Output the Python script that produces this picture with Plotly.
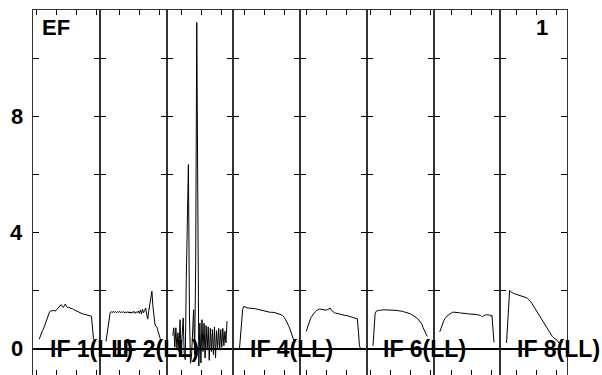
import plotly.graph_objects as go

# ---------------- data ----------------
IF_NAMES = ["IF 1(LL)", "IF 2(LL)", "IF 3(LL)", "IF 4(LL)",
            "IF 5(LL)", "IF 6(LL)", "IF 7(LL)", "IF 8(LL)"]
IF_SHOWN_LABEL = [True, True, False, True, False, True, False, True]
IF_START_MHZ = [8402.5, 8412.0, 8421.75, 8431.25, 8441.0, 8450.5, 8460.25, 8472.5]
IF_BANDWIDTH_MHZ = 10.0
CHAN_WIDTH_MHZ = 0.15625
FIRST_CHAN = 6
FREQ_TICK_MHZ = 3.0
Y_TICKS = [0, 2, 4, 6, 8, 10]
Y_LABELS = [0, 4, 8]
TITLE_TEXT = "Spectra, bandpass applied"
STATION = "EF"
PAGE = "1"

amp_if1 = [0.33, 0.45, 0.55, 0.62, 0.68, 0.78, 0.90, 1.02, 1.12, 1.22, 1.28, 1.30, 1.31,
           1.33, 1.32, 1.30, 1.31, 1.36, 1.40, 1.43, 1.48, 1.52, 1.46, 1.42, 1.48, 1.54,
           1.47, 1.42, 1.43, 1.42, 1.41, 1.40, 1.37, 1.35, 1.33, 1.31, 1.29, 1.27, 1.25,
           1.23, 1.22, 1.21, 1.20, 1.19, 1.18, 1.17, 1.16, 1.16, 1.15, 1.14, 1.12, 0.75, 0.33]
amp_if2 = [0.25, 0.55, 0.85, 1.10, 1.24, 1.28, 1.24, 1.29, 1.25, 1.28, 1.24, 1.28, 1.25,
           1.29, 1.24, 1.27, 1.25, 1.28, 1.23, 1.27, 1.24, 1.28, 1.23, 1.27, 1.22, 1.27,
           1.24, 1.29, 1.22, 1.27, 1.24, 1.30, 1.22, 1.33, 1.20, 1.36, 1.24, 1.32, 1.40,
           1.18, 1.02, 1.30, 1.55, 1.80, 1.98, 1.45, 1.00, 0.82, 0.78, 0.72, 0.58, 0.45, 0.35]
amp_if3 = [0.45, 0.72, 0.05, 0.72, -0.05, 0.55, -0.10, 1.00, -0.15, 0.70, 1.06, -0.20, -0.38,
           2.50, 5.00, 6.35, 1.20, -0.50, -0.26, 0.60, 1.34, -0.20, 3.00, 11.25, 4.00, -0.60,
           0.88, -0.49, 1.00, -0.10, 0.88, -0.32, 0.80, -0.05, 0.75, -0.40, 0.70, -0.10, 0.66,
           -0.20, 0.75, -0.32, 0.62, 0.00, 0.70, -0.05, 0.66, 0.05, 0.70, 0.10, 0.60, 0.20, 0.95]
amp_if4 = [0.00, 0.45, 0.95, 1.35, 1.46, 1.44, 1.42, 1.41, 1.40, 1.40, 1.40, 1.39, 1.39,
           1.39, 1.38, 1.38, 1.37, 1.36, 1.35, 1.34, 1.33, 1.32, 1.31, 1.30, 1.29, 1.29,
           1.28, 1.27, 1.26, 1.26, 1.25, 1.26, 1.26, 1.25, 1.24, 1.23, 1.22, 1.21, 1.21,
           1.19, 1.17, 1.15, 1.12, 1.07, 1.01, 0.95, 0.88, 0.80, 0.71, 0.62, 0.53, 0.42, 0.30]
amp_if5 = [0.60, 0.72, 0.85, 0.95, 1.03, 1.10, 1.16, 1.21, 1.26, 1.29, 1.32, 1.34, 1.36,
           1.37, 1.36, 1.35, 1.35, 1.33, 1.32, 1.33, 1.34, 1.36, 1.38, 1.40, 1.33, 1.29,
           1.26, 1.24, 1.23, 1.22, 1.21, 1.20, 1.18, 1.17, 1.17, 1.16, 1.15, 1.15, 1.14,
           1.14, 1.13, 1.12, 1.11, 1.10, 1.10, 1.09, 1.08, 1.07, 1.06, 1.03, 0.60, 0.10, 0.00]
amp_if6 = [0.10, 0.75, 1.20, 1.29, 1.31, 1.32, 1.32, 1.33, 1.33, 1.33, 1.34, 1.34, 1.34,
           1.34, 1.34, 1.34, 1.33, 1.33, 1.33, 1.33, 1.32, 1.32, 1.32, 1.32, 1.31, 1.31,
           1.30, 1.30, 1.29, 1.28, 1.27, 1.26, 1.26, 1.25, 1.24, 1.22, 1.20, 1.18, 1.16,
           1.14, 1.12, 1.09, 1.06, 1.03, 0.99, 0.95, 0.90, 0.84, 0.73, 0.65, 0.57, 0.49, 0.42]
amp_if7 = [0.58, 0.70, 0.82, 0.92, 0.98, 1.04, 1.09, 1.13, 1.16, 1.18, 1.21, 1.23, 1.25,
           1.26, 1.26, 1.25, 1.25, 1.24, 1.24, 1.24, 1.23, 1.23, 1.23, 1.22, 1.22, 1.21,
           1.21, 1.20, 1.20, 1.19, 1.19, 1.19, 1.19, 1.18, 1.18, 1.18, 1.17, 1.17, 1.16,
           1.15, 1.12, 1.10, 1.13, 1.16, 1.17, 1.17, 1.16, 1.16, 1.17, 1.12, 1.15, 0.70, 0.22]
amp_if8 = [0.20, 0.90, 1.60, 2.01, 1.97, 1.94, 1.92, 1.90, 1.89, 1.88, 1.86, 1.85, 1.84,
           1.83, 1.82, 1.81, 1.79, 1.78, 1.77, 1.76, 1.74, 1.71, 1.67, 1.63, 1.58, 1.52,
           1.46, 1.40, 1.34, 1.28, 1.22, 1.16, 1.10, 1.05, 0.99, 0.93, 0.87, 0.81, 0.75,
           0.69, 0.63, 0.57, 0.52, 0.47, 0.42, 0.38, 0.35, 0.32, 0.30, 0.28, 0.20, None, None]
AMPS = [amp_if1, amp_if2, amp_if3, amp_if4, amp_if5, amp_if6, amp_if7, amp_if8]

# ---------------- figure ----------------
W, H = 602, 375
ML, MR, MT, MB = 33, 35, 10, 0
PW = W - ML - MR
PH = H - MT - MB
NP = len(AMPS)
Y_RANGE = [-0.907, 11.68]
FONT = "Liberation Sans, Arial, sans-serif"

fig = go.Figure()
for i, amps in enumerate(AMPS):
    f0 = IF_START_MHZ[i]
    freqs = [f0 + (FIRST_CHAN + k) * CHAN_WIDTH_MHZ for k in range(len(amps))]
    sfx = "" if i == 0 else str(i + 1)
    fig.add_trace(go.Scatter(x=freqs, y=amps, mode="lines",
                             line=dict(color="black", width=1),
                             xaxis="x" + sfx, yaxis="y" + sfx,
                             showlegend=False, hoverinfo="skip"))
    fig.layout["xaxis" + sfx] = dict(
        domain=[i / NP, (i + 1) / NP], range=[f0, f0 + IF_BANDWIDTH_MHZ],
        anchor="y" + sfx, showgrid=False, zeroline=False,
        showline=True, linecolor="#333333", linewidth=1, mirror="allticks",
        ticks="inside", ticklen=5, tickcolor="black", tickwidth=1,
        tick0=0, dtick=FREQ_TICK_MHZ, showticklabels=False)
    fig.layout["yaxis" + sfx] = dict(
        domain=[0, 1], range=Y_RANGE, anchor="x" + sfx,
        showgrid=False, zeroline=True, zerolinecolor="black",
        showline=True, linecolor="#333333", linewidth=1, mirror="allticks",
        ticks="inside", ticklen=6, tickcolor="black", tickwidth=1,
        tickmode="array", tickvals=Y_TICKS, showticklabels=False)

anns = []
for v in Y_LABELS:
    anns.append(dict(text=str(v), xref="paper", yref="y", x=-8.5 / PW, y=v,
                     xanchor="right", yanchor="middle", showarrow=False,
                     font=dict(family=FONT, size=22, color="black", weight="bold")))
for i, name in enumerate(IF_NAMES):
    if not IF_SHOWN_LABEL[i]:
        continue
    anns.append(dict(text=name, xref="paper", yref="y", x=(i + 14.5 / (PW / NP)) / NP,
                     y=0, xanchor="left", yanchor="middle", showarrow=False,
                     font=dict(family=FONT, size=23, color="black", weight="bold")))
anns.append(dict(text=STATION, xref="paper", yref="paper", x=7.0 / PW, y=1 - 17.5 / PH,
                 xanchor="left", yanchor="middle", showarrow=False,
                 font=dict(family=FONT, size=22, color="black", weight="bold")))
anns.append(dict(text=PAGE, xref="paper", yref="paper", x=(550 - ML) / PW, y=1 - 17.5 / PH,
                 xanchor="right", yanchor="middle", showarrow=False,
                 font=dict(family=FONT, size=22, color="black", weight="bold")))
anns.append(dict(text=TITLE_TEXT, xref="paper", yref="paper", x=(283 - ML) / PW,
                 y=1 + 7.5 / PH, xanchor="right", yanchor="bottom", showarrow=False,
                 font=dict(family=FONT, size=22, color="black", weight="bold")))

fig.update_layout(width=W, height=H, margin=dict(l=ML, r=MR, t=MT, b=MB, pad=0),
                  paper_bgcolor="white", plot_bgcolor="white",
                  annotations=anns, showlegend=False)
fig.write_html("out.html", config={"displayModeBar": False, "staticPlot": True},
               post_script="document.body.style.margin='0px';"
                           "document.body.style.overflow='hidden';")
